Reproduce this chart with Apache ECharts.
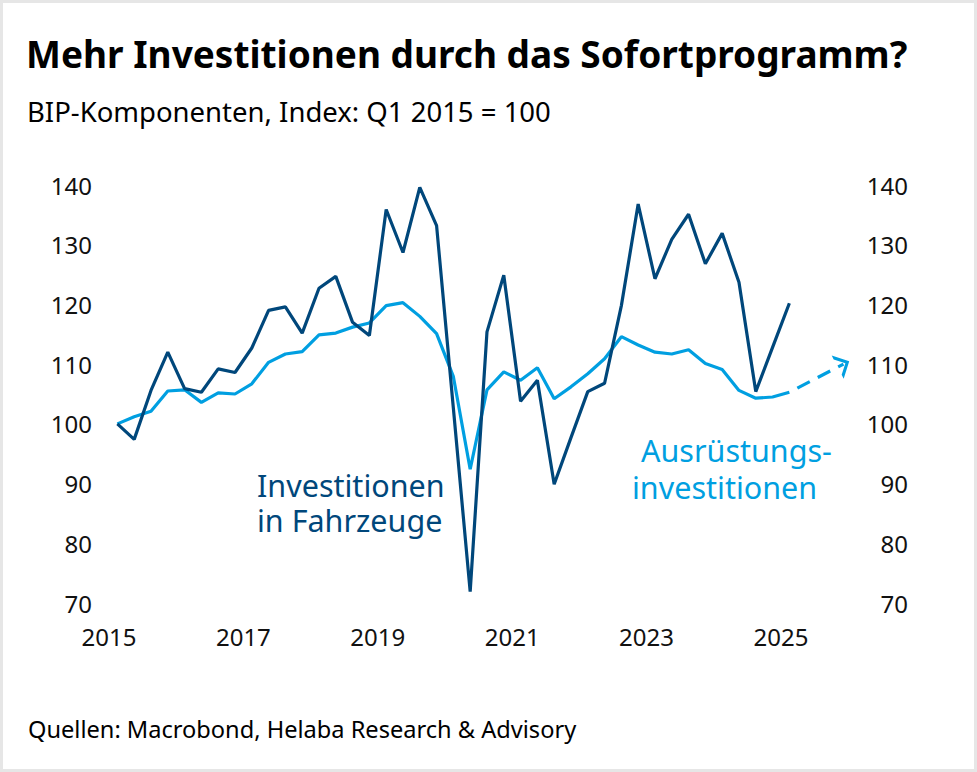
<!DOCTYPE html>
<html>
<head>
    <meta charset="utf-8">
    <title>Mehr Investitionen durch das Sofortprogramm?</title>
    <script src="https://cdn.jsdelivr.net/npm/echarts@6/dist/echarts.min.js"></script>
    <style>
        html, body { margin: 0; padding: 0; background: #fff; }
        #main {
            width: 977px; height: 772px;
            background: #fff;
            box-shadow: inset 0 0 0 3px #e6e6e6;
        }
    </style>
</head>
<body>
<div id="main"></div>
<script type="text/javascript">
    // Quartale Q1 2015 .. Q1 2025
    var quarters = [];
    for (var y = 2015; y <= 2025; y++) {
        for (var q = 1; q <= 4; q++) {
            if (y === 2025 && q > 1) break;
            quarters.push('Q' + q + ' ' + y);
        }
    }

    // Investitionen in Fahrzeuge (Index Q1 2015 = 100)
    var fahrzeuge = [
        100.0, 97.4, 105.6, 112.0,
        105.9, 105.3, 109.2, 108.6,
        112.7, 119.0, 119.6, 115.2,
        122.7, 124.7, 117.0, 114.8,
        135.9, 128.7, 139.6, 133.2,
        102.6, 71.9, 115.4, 124.9,
        103.8, 107.3, 89.9, 97.7,
        105.4, 106.8, 119.8, 136.8,
        124.3, 130.9, 135.1, 126.8,
        131.9, 123.7, 105.4, 112.8,
        120.2
    ];

    // Ausrüstungsinvestitionen (Index Q1 2015 = 100)
    var ausruestung = [
        100.0, 101.2, 102.1, 105.5,
        105.7, 103.6, 105.2, 105.0,
        106.7, 110.3, 111.7, 112.1,
        114.9, 115.2, 116.2, 116.9,
        119.8, 120.3, 118.0, 115.1,
        107.9, 92.4, 105.7, 108.7,
        107.3, 109.4, 104.2, 106.2,
        108.4, 110.9, 114.6, 113.2,
        112.0, 111.7, 112.4, 110.1,
        109.1, 105.6, 104.3, 104.5,
        105.3
    ];

    // gestrichelte Fortschreibung (Pfeil)
    var prognoseX = [2025.125, 2025.93];
    var prognose = [105.3, 110.0];

    var yTicks = [70, 80, 90, 100, 110, 120, 130, 140];
    var xTicks = [2015, 2017, 2019, 2021, 2023, 2025];

    var dark = '#00477b';
    var light = '#009fe1';
    var font = 'Noto Sans';

    // quarter label -> decimal year (mid quarter)
    function qx(label) {
        var q = +label.charAt(1), y = +label.slice(3);
        return y + (q - 1) * 0.25 + 0.125;
    }
    function pairs(vals) {
        return vals.map(function (v, i) { return [qx(quarters[i]), v]; });
    }

    var myChart = echarts.init(document.getElementById('main'), null, { renderer: 'svg' });

    var arrowPath = 'path://M12,0 L24,12 L20,12 L12,4 L4,12 L0,12 Z';

    var axisLabelStyle = { color: '#111', fontFamily: font, fontSize: 24 };

    option = {
        backgroundColor: 'transparent',
        animation: false,
        textStyle: { fontFamily: font },
        title: [
            {
                text: 'Mehr Investitionen durch das Sofortprogramm?',
                left: 21, top: 30,
                textStyle: { fontFamily: font, fontSize: 37, fontWeight: 'bold', color: '#000' }
            },
            {
                text: 'BIP-Komponenten, Index: Q1 2015 = 100',
                left: 22, top: 92,
                textStyle: { fontFamily: font, fontSize: 27.5, fontWeight: 'normal', color: '#000' }
            },
            {
                text: 'Quellen: Macrobond, Helaba Research & Advisory',
                left: 23, top: 712,
                textStyle: { fontFamily: font, fontSize: 23.6, fontWeight: 'normal', color: '#000' }
            }
        ],
        grid: { left: 109, right: 115.4, top: 185, bottom: 169, containLabel: false },
        xAxis: {
            type: 'value',
            min: xTicks[0],
            max: 2026.2,
            interval: 2,
            axisLine: { show: false },
            axisTick: { show: false },
            splitLine: { show: false },
            axisLabel: {
                color: '#111', fontFamily: font, fontSize: 24,
                margin: 33, verticalAlign: 'middle',
                showMaxLabel: false,
                formatter: function (v) { return xTicks.indexOf(v) >= 0 ? String(v) : ''; }
            }
        },
        yAxis: [
            {
                type: 'value', position: 'left',
                min: yTicks[0], max: yTicks[yTicks.length - 1], interval: 10,
                axisLine: { show: false }, axisTick: { show: false }, splitLine: { show: false },
                axisLabel: Object.assign({ margin: 17, align: 'right' }, axisLabelStyle)
            },
            {
                type: 'value', position: 'right',
                min: yTicks[0], max: yTicks[yTicks.length - 1], interval: 10,
                axisLine: { show: false }, axisTick: { show: false }, splitLine: { show: false },
                axisLabel: Object.assign({ margin: 46.4, align: 'right' }, axisLabelStyle)
            }
        ],
        series: [
            {
                name: 'Ausrüstungsinvestitionen',
                type: 'line',
                data: pairs(ausruestung),
                symbol: 'none',
                lineStyle: { color: light, width: 3.2 },
                z: 2
            },
            {
                name: 'Investitionen in Fahrzeuge',
                type: 'line',
                data: pairs(fahrzeuge),
                symbol: 'none',
                lineStyle: { color: dark, width: 3.2 },
                z: 3
            },
            {
                name: 'Prognose',
                type: 'line',
                data: [
                    { value: [prognoseX[0], prognose[0]], symbol: 'none' },
                    { value: [prognoseX[1], prognose[1]], symbol: arrowPath, symbolSize: [26, 13], symbolRotate: -62.6 }
                ],
                showSymbol: true,
                itemStyle: { color: light },
                lineStyle: { color: light, width: 3.2, type: [14, 9], dashOffset: 14 },
                z: 2
            }
        ],
        graphic: [
            {
                type: 'text', left: 257, top: 467,
                style: {
                    text: 'Investitionen\nin Fahrzeuge',
                    fill: dark, font: '30.5px "Noto Sans"', lineHeight: 35.5
                }
            },
            {
                type: 'text', left: 641, top: 434.5,
                style: { text: 'Ausrüstungs-', fill: light, font: '30.5px "Noto Sans"' }
            },
            {
                type: 'text', left: 632, top: 471,
                style: { text: 'investitionen', fill: light, font: '30.5px "Noto Sans"' }
            }
        ]
    };

    myChart.setOption(option);
</script>
</body>
</html>
